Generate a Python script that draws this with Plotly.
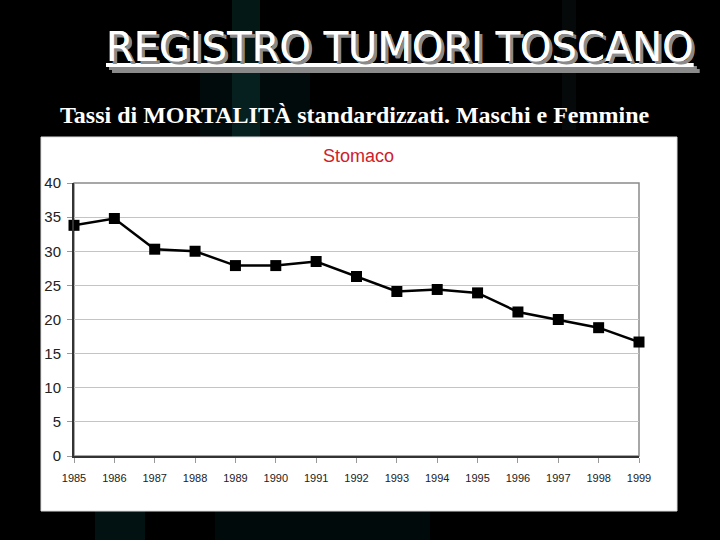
import plotly.graph_objects as go

years = [1985, 1986, 1987, 1988, 1989, 1990, 1991, 1992, 1993, 1994, 1995, 1996, 1997, 1998, 1999]
rates = [33.8, 34.8, 30.3, 30.0, 27.9, 27.9, 28.5, 26.3, 24.1, 24.4, 23.9, 21.1, 20.0, 18.8, 16.7]
y_ticks = [0, 5, 10, 15, 20, 25, 30, 35, 40]

W, H = 720, 540
def px(x): return x / W
def py(y): return 1 - y / H

fig = go.Figure()
fig.add_trace(go.Scatter(
    x=years, y=rates, mode="lines+markers",
    line=dict(color="black", width=2.5),
    marker=dict(symbol="square", size=11, color="black"),
    cliponaxis=False, showlegend=False, hoverinfo="x+y"))

shapes = []
# background glows
glows = [
    (232, 0, 260, 150, "rgba(20,110,100,0.22)"),
    (200, 70, 310, 140, "rgba(20,90,90,0.12)"),
    (562, 0, 576, 130, "rgba(60,90,90,0.10)"),
    (95, 511, 145, 540, "rgba(10,80,80,0.22)"),
    (215, 511, 430, 540, "rgba(10,70,70,0.15)"),
]
for x0, y0, x1, y1, c in glows:
    shapes.append(dict(type="rect", xref="paper", yref="paper",
                       x0=px(x0), x1=px(x1), y0=py(y1), y1=py(y0),
                       fillcolor=c, line=dict(width=0), layer="below"))
# white chart box
shapes.append(dict(type="rect", xref="paper", yref="paper",
                   x0=px(41), x1=px(677), y0=py(511), y1=py(137),
                   fillcolor="white", line=dict(color="#dddddd", width=1), layer="below"))
# plot frame
shapes.append(dict(type="rect", xref="paper", yref="paper",
                   x0=px(74), x1=px(639), y0=py(456), y1=py(183),
                   line=dict(color="#8a8a8a", width=1.5), layer="below"))

fig.update_layout(
    width=W, height=H, autosize=False,
    margin=dict(l=0, r=0, t=0, b=0, pad=0),
    paper_bgcolor="black", plot_bgcolor="rgba(0,0,0,0)",
    shapes=shapes,
    xaxis=dict(domain=[px(74), px(639)], range=[1985, 1999], automargin=False,
               tickmode="array", tickvals=years, ticktext=[str(y) for y in years],
               showgrid=False, zeroline=False,
               showline=True, linecolor="#333333", linewidth=2,
               ticks="outside", ticklen=5, tickcolor="#999999",
               ticklabelstandoff=6,
               tickfont=dict(family="Arial, Liberation Sans", size=11, color="#222222")),
    yaxis=dict(domain=[py(456), py(183)], range=[0, 40], automargin=False,
               tickmode="array", tickvals=y_ticks,
               showgrid=True, gridcolor="#c4c4c4", gridwidth=1.2,
               zeroline=False,
               showline=True, linecolor="#333333", linewidth=2,
               ticks="outside", ticklen=5, tickcolor="#999999",
               ticklabelstandoff=3,
               tickfont=dict(family="Arial, Liberation Sans", size=15, color="#222222")),
    annotations=[
        dict(text="<u>REGISTRO TUMORI TOSCANO</u>", xref="paper", yref="paper",
             x=px(400), y=py(47), xanchor="center", yanchor="middle", showarrow=False,
             font=dict(family="DejaVu Sans", size=40, color="white",
                       shadow="3px 3px 0px #8a8a8a")),
        dict(text="Tassi di MORTALITÀ standardizzati. Maschi e Femmine", xref="paper", yref="paper",
             x=px(58), y=py(115), xanchor="left", yanchor="middle", showarrow=False,
             font=dict(family="Liberation Serif, Times New Roman", size=24, weight="bold", color="white")),
        dict(text="Stomaco", xref="paper", yref="paper",
             x=px(358), y=py(156), xanchor="center", yanchor="middle", showarrow=False,
             font=dict(family="Arial, Liberation Sans", size=18, color="#d0202a")),
    ],
)

fig.write_html("out.html",
               config={"displayModeBar": False},
               post_script="document.body.style.margin='0';document.body.style.padding='0';"
                           "document.documentElement.style.overflow='hidden';document.body.style.overflow='hidden';")
